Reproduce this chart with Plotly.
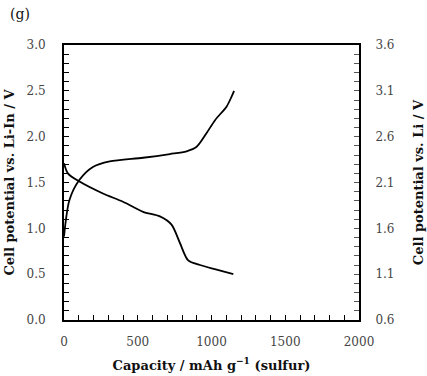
import plotly.graph_objects as go

charge_cap = [0, 37, 105, 196, 310, 536, 718, 831, 899, 967, 1024, 1103, 1137, 1153]
charge_v = [0.91, 1.31, 1.53, 1.67, 1.73, 1.77, 1.81, 1.84, 1.89, 2.04, 2.18, 2.33, 2.44, 2.50]
dis_cap = [0, 26, 105, 264, 400, 536, 650, 729, 786, 842, 922, 1035, 1148]
dis_v = [1.71, 1.60, 1.51, 1.38, 1.29, 1.18, 1.13, 1.04, 0.84, 0.65, 0.60, 0.55, 0.50]

FONT = "DejaVu Serif"
fig = go.Figure()
fig.add_trace(go.Scatter(x=charge_cap, y=charge_v, mode="lines",
                         line=dict(color="black", width=1.8, shape="spline", smoothing=0.8)))
fig.add_trace(go.Scatter(x=dis_cap, y=dis_v, mode="lines",
                         line=dict(color="black", width=1.8, shape="spline", smoothing=0.8)))
fig.add_trace(go.Scatter(x=[0], y=[1.0], yaxis="y2", mode="markers",
                         marker=dict(opacity=0), hoverinfo="skip"))

tickfont = dict(family=FONT, size=12, color="#444")
titlefont = dict(family=FONT, size=13, color="#111", weight="bold")

fig.update_layout(
    width=427, height=376,
    margin=dict(l=64, r=68, t=45, b=56, autoexpand=False),
    plot_bgcolor="white", paper_bgcolor="white",
    showlegend=False,
    xaxis=dict(range=[0, 2000], dtick=500, tick0=0, ticks="inside", ticklen=5,
               tickcolor="black", showline=True, linecolor="black", linewidth=2,
               mirror=True, showgrid=False, zeroline=False, tickfont=tickfont,
               ticklabelstandoff=10, automargin=False,
               minor=dict(dtick=100, ticks="inside", ticklen=5, tickcolor="black"),
               title=dict(text="Capacity / mAh g<sup>−1</sup> (sulfur)", font=titlefont, standoff=12)),
    yaxis=dict(range=[0, 3.0], dtick=0.5, tick0=0, ticks="inside", ticklen=5,
               tickcolor="black", showline=True, linecolor="black", linewidth=2,
               showgrid=False, zeroline=False, tickfont=tickfont, tickformat=".1f",
               ticklabelstandoff=14, automargin=False,
               minor=dict(dtick=0.1, ticks="inside", ticklen=5, tickcolor="black"),
               title=dict(text="Cell potential vs. Li-In / V", font=titlefont, standoff=9)),
    yaxis2=dict(range=[0.6, 3.6], dtick=0.5, tick0=0.6, ticks="inside", ticklen=5,
                tickcolor="#555", showline=True, linecolor="black", linewidth=2,
                overlaying="y", side="right", showgrid=False, zeroline=False,
                tickfont=tickfont, tickformat=".1f", ticklabelstandoff=12, automargin=False,
                minor=dict(dtick=0.1, ticks="inside", ticklen=5, tickcolor="#555"),
                title=dict(text="Cell potential vs. Li / V", font=titlefont, standoff=20)),
    annotations=[dict(text="(g)", x=-0.19, y=1.15, xref="paper", yref="paper",
                      xanchor="left", yanchor="top", showarrow=False,
                      font=dict(family=FONT, size=14, color="#111"))],
)
fig.write_html("out.html")
